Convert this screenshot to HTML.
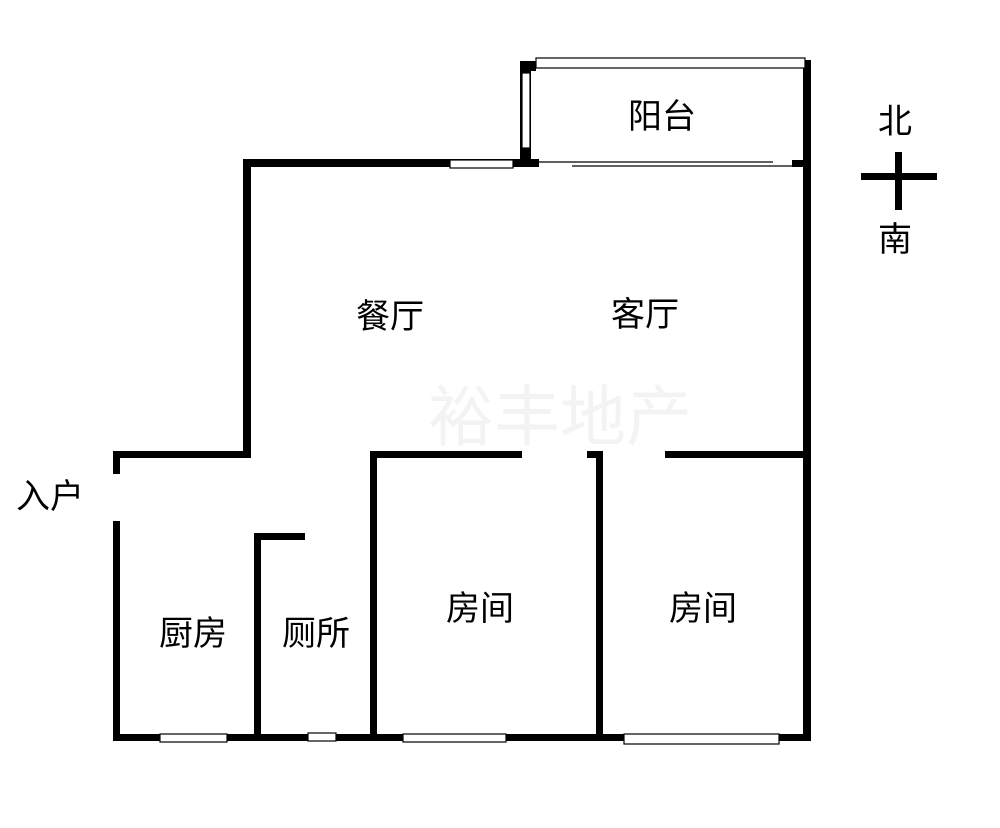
<!DOCTYPE html>
<html><head><meta charset="utf-8"><style>
html,body{margin:0;padding:0;background:#fff;}
svg{display:block}
text{font-family:"Liberation Sans","Noto Sans CJK SC",sans-serif;fill:#000}
text.wm{fill:#f3f3f3}
</style></head><body>
<svg width="1000" height="828" viewBox="0 0 1000 828" xmlns="http://www.w3.org/2000/svg">
<rect width="1000" height="828" fill="#fff"/>
<text class="wm" x="560" y="440" font-size="66" text-anchor="middle">裕丰地产</text>
<g fill="#000">
<rect x="243" y="159" width="296" height="8"/>
<rect x="243" y="159" width="8" height="299"/>
<rect x="520" y="61" width="11" height="106"/>
<rect x="520" y="61" width="16" height="10"/>
<rect x="803" y="60" width="8" height="681"/>
<rect x="792" y="160" width="13" height="7"/>
<rect x="113" y="451" width="138" height="7"/>
<rect x="370" y="451" width="152" height="7"/>
<rect x="587" y="451" width="16" height="7"/>
<rect x="665" y="451" width="146" height="7"/>
<rect x="113" y="451" width="7" height="23"/>
<rect x="113" y="521" width="7" height="220"/>
<rect x="254" y="533" width="51" height="7"/>
<rect x="254" y="533" width="7" height="208"/>
<rect x="370" y="451" width="7" height="290"/>
<rect x="596" y="451" width="7" height="290"/>
<rect x="113" y="734" width="698" height="7"/>
<rect x="861" y="173" width="76" height="7"/>
<rect x="895" y="152" width="7" height="58"/>
</g>
<g fill="#fff" stroke="#000" stroke-width="1.2">
<rect x="450" y="160" width="63" height="8"/>
<rect x="522" y="73" width="8" height="75"/>
<rect x="536" y="58" width="269" height="10"/>
<rect x="160" y="734" width="67" height="8"/>
<rect x="308" y="733" width="28" height="8"/>
<rect x="403" y="734" width="103" height="8"/>
<rect x="624" y="734" width="155" height="10"/>
</g>
<line x1="538" y1="162" x2="773" y2="162" stroke="#000" stroke-width="1.2"/>
<line x1="572" y1="166" x2="800" y2="166" stroke="#000" stroke-width="1.2"/>
<g font-size="34" text-anchor="middle">
<text x="662" y="128">阳台</text>
<text x="390" y="328">餐厅</text>
<text x="645" y="326">客厅</text>
<text x="193" y="645">厨房</text>
<text x="316" y="645">厕所</text>
<text x="480" y="620">房间</text>
<text x="703" y="620">房间</text>
<text x="895" y="133">北</text>
<text x="895" y="251">南</text>
<text x="50" y="508">入户</text>
</g>
</svg>
</body></html>
